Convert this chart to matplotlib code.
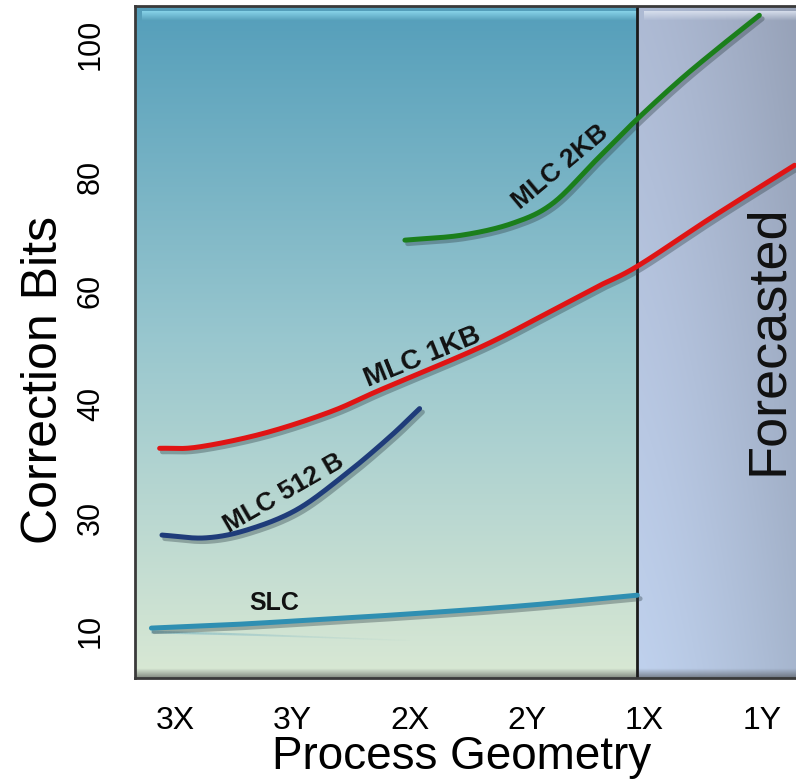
import numpy as np
import matplotlib
matplotlib.use("Agg")
import matplotlib.pyplot as plt
import matplotlib.patheffects as pe

plt.rcParams['font.family'] = ['Liberation Sans', 'DejaVu Sans']

# ---------------- data ----------------
categories = ["3X", "3Y", "2X", "2Y", "1X", "1Y"]
y_tick_values = [10, 30, 40, 60, 80, 100]
y_tick_levels = [0, 1, 2, 3, 4, 5.17]   # visual position of each tick label

slc_x = [-0.20, 0.47, 1.06, 2.00, 2.94, 3.94]
slc_y = [10.5, 11.1, 11.8, 13.0, 14.4, 16.3]

mlc512_x = [-0.11, 0.255, 0.613, 1.04, 1.464, 1.83, 2.085]
mlc512_y = [26.9, 26.4, 27.8, 30.7, 33.9, 37.1, 39.6]

mlc1k_x = [-0.13, 0.19, 0.75, 1.32, 1.75, 2.60, 3.17, 3.59, 3.94, 4.58, 5.28]
mlc1k_y = [36.1, 36.2, 37.4, 39.3, 42.5, 50.0, 56.0, 60.6, 64.3, 73.0, 81.8]

mlc2k_x = [1.96, 2.45, 2.88, 3.22, 3.59, 3.93, 4.30, 4.64, 4.98]
mlc2k_y = [68.9, 69.8, 71.9, 75.4, 82.6, 88.6, 94.6, 99.6, 104.4]

forecast_start = 3.94

# ---------------- scale helpers ----------------
VALS = np.array([-10] + y_tick_values + [140], dtype=float)
LEVS = np.array([-1] + y_tick_levels + [5.17 + 40 / 17.09], dtype=float)

def fwd(v):
    return np.interp(v, VALS, LEVS)

def inv(l):
    return np.interp(l, LEVS, VALS)

def smooth(xs, ys, n=30):
    xs = np.asarray(xs, float); ys = np.asarray(ys, float)
    P = np.column_stack([xs, ys])
    P = np.vstack([2 * P[0] - P[1], P, 2 * P[-1] - P[-2]])
    out = []
    for i in range(1, len(P) - 2):
        p0, p1, p2, p3 = P[i - 1], P[i], P[i + 1], P[i + 2]
        t = np.linspace(0, 1, n, endpoint=False)[:, None]
        seg = 0.5 * ((2 * p1) + (-p0 + p2) * t + (2 * p0 - 5 * p1 + 4 * p2 - p3) * t ** 2
                     + (-p0 + 3 * p1 - 3 * p2 + p3) * t ** 3)
        out.append(seg)
    out.append(P[-2][None, :])
    out = np.vstack(out)
    return out[:, 0], out[:, 1]

def smooth_curve(xs, ys):
    # smooth in the displayed (level) space, then map back to values
    sx, sl = smooth(xs, fwd(np.asarray(ys, float)))
    return sx, inv(sl)

# ---------------- figure ----------------
fig = plt.figure(figsize=(7.96, 7.83), dpi=100)
fig.patch.set_facecolor('white')
ax = fig.add_axes([135 / 796, 1 - 678 / 783, 1 - 135 / 796 + 0.01, (678 - 6) / 783])
ax.set_yscale('function', functions=(fwd, inv))
ax.set_xlim(-0.34, 5.36)
ax.set_ylim(1.7, 105.8)

xa = (forecast_start - (-0.34)) / (5.36 + 0.34)

# left panel gradient (vertical)
h = 256
t = np.linspace(0, 1, h)[:, None]  # 0 top -> 1 bottom
top = np.array([0.33, 0.62, 0.73])
mid = np.array([0.60, 0.78, 0.81])
bot = np.array([0.85, 0.91, 0.83])
grad = np.where(t < 0.5, top + (mid - top) * (t / 0.5), mid + (bot - mid) * ((t - 0.5) / 0.5))
grad = grad[:, None, :] * np.ones((1, 2, 1))
ax.imshow(grad, extent=[0, xa, 0, 1], transform=ax.transAxes, aspect='auto', zorder=0)

# right panel gradient
w = 128
u = np.linspace(0, 1, w)[None, :, None]
ctop = np.array([0.68, 0.73, 0.83])
cbot = np.array([0.75, 0.82, 0.93])
base = ctop + (cbot - ctop) * t[:, :, None] * np.ones((1, 1, 3))
rgrad = base * (1.0 - 0.14 * u ** 1.3)
ax.imshow(np.clip(rgrad, 0, 1), extent=[xa, 1, 0, 1], transform=ax.transAxes, aspect='auto', zorder=0)

# bevel highlights / shadows
hl = np.linspace(1, 0, 16)[:, None, None]
strip_l = np.array([0.55, 0.85, 0.93]) * np.ones((16, 2, 3))
strip_l = np.concatenate([strip_l, (hl * 0.9) * np.ones((16, 2, 1))], axis=2)
ax.imshow(strip_l, extent=[0.01, xa, 0.978, 0.992], transform=ax.transAxes, aspect='auto', zorder=0.5)
strip_r = np.array([0.86, 0.89, 0.94]) * np.ones((16, 2, 3))
strip_r = np.concatenate([strip_r, (hl * 0.9) * np.ones((16, 2, 1))], axis=2)
ax.imshow(strip_r, extent=[xa + 0.01, 1, 0.978, 0.992], transform=ax.transAxes, aspect='auto', zorder=0.5)
sh = np.linspace(0, 1, 16)[:, None, None]
strip_b = np.zeros((16, 2, 3)) + 0.25
strip_b = np.concatenate([strip_b, (sh * 0.55) * np.ones((16, 2, 1))], axis=2)
ax.imshow(strip_b, extent=[0, 1, 0.0, 0.014], transform=ax.transAxes, aspect='auto', zorder=0.5)

ax.axvline(forecast_start, color='#1a1a1a', lw=2.0, zorder=2)

# curves
shadow = [pe.SimpleLineShadow(offset=(2, -2.5), shadow_color='#2a3a40', alpha=0.35), pe.Normal()]
series = [
    (slc_x, slc_y, '#2f8fb2'),
    (mlc512_x, mlc512_y, '#1f3c7a'),
    (mlc1k_x, mlc1k_y, '#e01414'),
    (mlc2k_x, mlc2k_y, '#1b7f1b'),
]
for xs, ys, c in series:
    sx, sy = smooth_curve(xs, ys)
    ax.plot(sx, sy, color=c, lw=3.6, solid_capstyle='round', zorder=3, path_effects=shadow)

# faint reflection under SLC
rx, rl = smooth(slc_x[:4], fwd(np.asarray(slc_y[:4], float)))
rl_ref = rl - (rl - rl[0]) * 1.6 - 0.035
ry_ref = inv(rl_ref)
for i in range(len(rx) - 1):
    a = 0.45 * (1 - i / len(rx))
    ax.plot(rx[i:i + 2], ry_ref[i:i + 2], color='#4a9ab8', lw=2.0 * (1 - 0.6 * i / len(rx)),
            alpha=a, zorder=2.5, solid_capstyle='butt')

# labels on curves
lab_kw = dict(fontweight='bold', color='#111111', ha='center', va='center', zorder=4)
ax.text(0.85, 14.9, "SLC", fontsize=18, **lab_kw)
ax.text(0.93, 32.1, "MLC 512 B", rotation=30, fontsize=19, **lab_kw)
ax.text(2.11, 48.3, "MLC 1KB", rotation=22, fontsize=20, **lab_kw)
ax.text(3.28, 81.6, "MLC 2KB", rotation=40, fontsize=19, **lab_kw)

ax.text(0.9455, 0.503, "Forecasted", transform=ax.transAxes, rotation=90, fontsize=39,
        ha='center', va='center', color='#111111', zorder=4)

# ticks
ax.set_xticks(range(len(categories)))
ax.set_xticklabels(categories, fontsize=23)
ax.set_yticks(y_tick_values)
ax.set_yticklabels([str(v) for v in y_tick_values], fontsize=22, rotation=90, va='center')
ax.yaxis.set_minor_locator(matplotlib.ticker.NullLocator())
ax.tick_params(axis='x', length=0, pad=20)
ax.tick_params(axis='y', length=0, pad=21)

for s in ax.spines.values():
    s.set_color('#3a3a3a')
    s.set_linewidth(2)

fig.text(44 / 796, 1 - 380 / 783, "Correction Bits", rotation=90, fontsize=36,
         ha='center', va='center')
fig.text(462 / 796, 1 - 757 / 783, "Process Geometry", fontsize=33, ha='center', va='center')

fig.savefig("out.png", dpi=100)
